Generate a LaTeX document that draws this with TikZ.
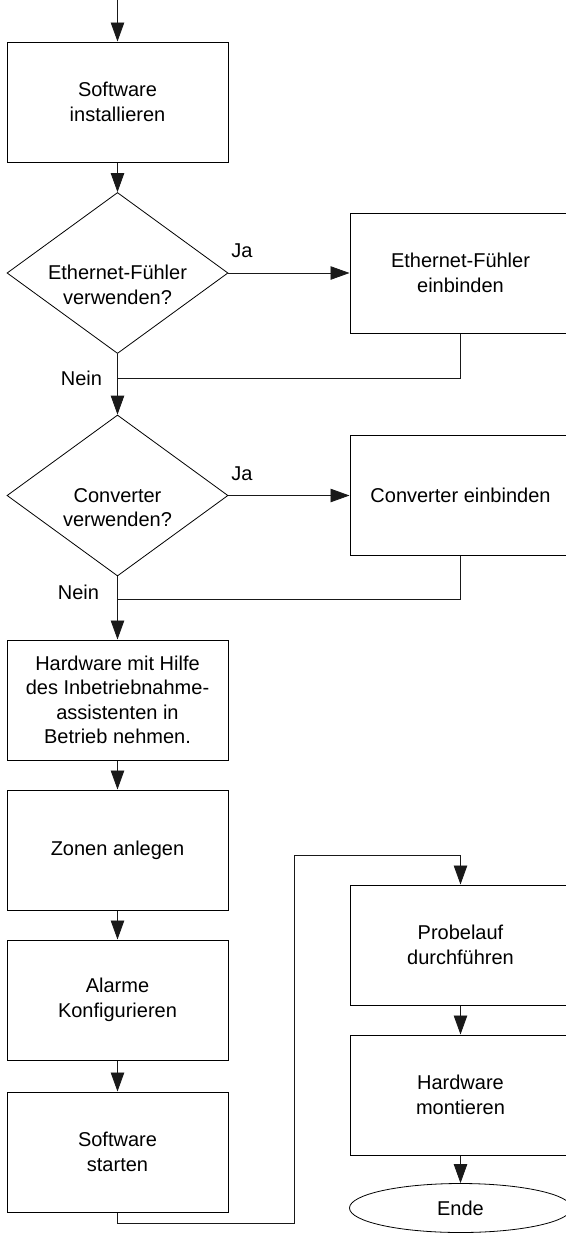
\documentclass[tikz,border=0pt]{standalone}
\usepackage{fontspec}
\setmainfont{Liberation Sans}
\usetikzlibrary{shapes.geometric,arrows.meta}

\begin{document}
\begin{tikzpicture}[x=1pt, y=1pt, node distance=150pt,
  font=\fontsize{20}{24.5}\selectfont,
  >={Triangle[length=19pt,width=13.5pt]},
  block/.style={draw, line width=1pt, minimum width=221pt, minimum height=120pt, align=center, inner sep=2pt},
  decision/.style={draw, diamond, line width=0.8pt, minimum width=221pt, minimum height=161pt, aspect=1.38, inner sep=0pt},
  endblock/.style={draw, ellipse, line width=0.8pt, minimum width=222pt, minimum height=49pt},
  link/.style={line width=0.8pt, color=black!90}]

  \useasboundingbox (0,0) rectangle (565,-1237);

  % Left column
  \node[coordinate] (top) at (117.5,0) {};
  \node[block] (inst) at (117.5,-102) {Software\\installieren};
  \node[decision, below of=inst, node distance=171pt, label={[align=center, yshift=-12pt]center:Ethernet-Fühler\\verwenden?}] (eth) {};
  \node[decision, below of=eth, node distance=222.5pt, label={[align=center, yshift=-12pt]center:Converter\\verwenden?}] (conv) {};
  \node[block, below of=conv, node distance=204.5pt] (hw) {Hardware mit Hilfe\\des Inbetriebnahme-\\assistenten in\\Betrieb nehmen.};
  \node[block, below of=hw] (zone) {Zonen anlegen};
  \node[block, below of=zone] (alarm) {Alarme\\Konfigurieren};
  \node[block, below of=alarm, node distance=152pt] (swstart) {Software\\starten};

  % Right column
  \node[block, right of=eth, node distance=343pt] (ethin) {Ethernet-Fühler\\einbinden};
  \node[block, right of=conv, node distance=343pt] (convin) {Converter einbinden};
  \node[block, right of=zone, node distance=343pt, yshift=-95pt] (probe) {Probelauf\\durchführen};
  \node[block, below of=probe] (hwmont) {Hardware\\montieren};
  \node[endblock, below of=hwmont, node distance=113pt] (ende) {Ende};

  % Junctions
  \node[coordinate, below of=eth, node distance=105pt] (m1) {};
  \node[coordinate, below of=conv, node distance=103.5pt] (m2) {};
  \node[coordinate, below of=swstart, node distance=71pt] (k1) {};
  \node[coordinate, above of=probe, node distance=90pt] (k2) {};

  % Labels
  \node[coordinate, right of=eth, node distance=124.5pt, yshift=22pt] (J1) {};
  \node[] at (J1) {Ja};
  \node[coordinate, right of=conv, node distance=124.5pt, yshift=22pt] (J2) {};
  \node[] at (J2) {Ja};
  \node[coordinate, left of=m1, node distance=36pt] (N1) {};
  \node[] at (N1) {Nein};
  \node[coordinate, left of=m2, node distance=39pt, yshift=7pt] (N2) {};
  \node[] at (N2) {Nein};

  % Vertical arrows
  \draw[->, link] (top) -- (inst.north);
  \draw[->, link] (inst.south) -- (eth.north);
  \draw[->, link] (eth.south) -- (conv.north);
  \draw[->, link] (conv.south) -- (hw.north);
  \draw[->, link] (hw.south) -- (zone.north);
  \draw[->, link] (zone.south) -- (alarm.north);
  \draw[->, link] (alarm.south) -- (swstart.north);
  \draw[->, link] (probe.south) -- (hwmont.north);
  \draw[->, link] (hwmont.south) -- (ende.north);

  % Branches
  \draw[->, link] (eth.east) -- (ethin.west);
  \draw[->, link] (conv.east) -- (convin.west);
  \draw[link] (ethin.south) |- (m1);
  \draw[link] (convin.south) |- (m2);

  % Jump to second column
  \draw[->, link] (swstart.south) -- (k1) -- ++(176.5,0) |- (k2) -- (probe.north);

\end{tikzpicture}
\end{document}
